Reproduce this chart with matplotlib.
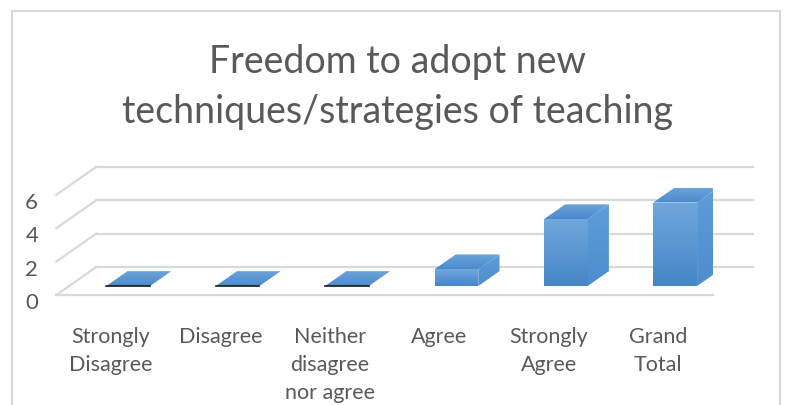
import numpy as np
import matplotlib
matplotlib.use("Agg")
import matplotlib.pyplot as plt
from matplotlib.patches import Polygon, Rectangle
from matplotlib.colors import LinearSegmentedColormap
from matplotlib.transforms import ScaledTranslation

# data
categories = ["Strongly\nDisagree", "Disagree", "Neither\ndisagree\nnor agree",
              "Agree", "Strongly\nAgree", "Grand\nTotal"]
counts = [0, 0, 0, 1, 4, 5]
y_ticks = [0, 2, 4, 6]
title = "Freedom to adopt new\ntechniques/strategies of teaching"

# fake 3d look: depth offset in data units
DX = 0.366
DY = 1.68
D_FRONT = 0.32
D_BACK = 0.85
BAR_OFF = -0.16
BAR_W = 0.40

GRID = "#D9D9D9"
TEXT = "#595959"
FONT = ["Lato", "DejaVu Sans"]

plt.rcParams['font.family'] = FONT

W, H = 787, 405
fig = plt.figure(figsize=(W / 100, H / 100), dpi=100)
ax = fig.add_axes([56.3 / W, 110 / H, 656.4 / W, 133.6 / H])
ax.set_xlim(-0.5, 5.5)
ax.set_ylim(0, 8)
for s in ax.spines.values():
    s.set_visible(False)


def proj(x, v, d):
    return (x + d * DX, v + d * DY)


def grad_poly(pts, c_top, c_bot, z):
    poly = Polygon(pts, closed=True, facecolor='none', edgecolor='none', zorder=z)
    ax.add_patch(poly)
    xs = [p[0] for p in pts]
    ys = [p[1] for p in pts]
    cmap = LinearSegmentedColormap.from_list('g', [c_bot, c_top])
    im = ax.imshow(np.linspace(0, 1, 64).reshape(-1, 1), cmap=cmap,
                   extent=[min(xs), max(xs), min(ys), max(ys)],
                   origin='lower', aspect='auto', zorder=z, interpolation='bilinear')
    im.set_clip_path(poly)


# back wall gridlines + left wall diagonals
x_lo, x_hi = ax.get_xlim()
for v in y_ticks:
    p0 = proj(x_lo, v, 1)
    p1 = proj(x_hi, v, 1)
    ax.plot([p0[0], p1[0]], [p0[1], p1[1]], color=GRID, lw=1.6, zorder=1, clip_on=False)
    q0 = proj(x_lo, v, 0)
    ax.plot([q0[0], p0[0]], [q0[1], p0[1]], color=GRID, lw=1.6, zorder=1, clip_on=False)
# floor front edge
f0 = proj(x_lo, 0, 0)
f1 = proj(x_hi, 0, 0)
ax.plot([f0[0], f1[0]], [f0[1], f1[1]], color=GRID, lw=1.6, zorder=1, clip_on=False)

# bars
for i, h in enumerate(counts):
    x0 = i + BAR_OFF
    x1 = x0 + BAR_W
    top = [proj(x0, h, D_FRONT), proj(x1, h, D_FRONT), proj(x1, h, D_BACK), proj(x0, h, D_BACK)]
    if h > 0:
        front = [proj(x0, 0, D_FRONT), proj(x1, 0, D_FRONT), proj(x1, h, D_FRONT), proj(x0, h, D_FRONT)]
        side = [proj(x1, 0, D_FRONT), proj(x1, 0, D_BACK), proj(x1, h, D_BACK), proj(x1, h, D_FRONT)]
        grad_poly(side, "#5E9DD9", "#4D8DCE", 3)
        grad_poly(front, "#70A7DC", "#4586C6", 4)
        grad_poly(top, "#6BA3DA", "#4A8ACB", 4)
    else:
        grad_poly(top, "#6BA3DA", "#4A8ACB", 4)
        a, b = proj(x0, 0, D_FRONT), proj(x1, 0, D_FRONT)
        ax.plot([a[0], b[0]], [a[1], b[1]], color="#1a1a1a", lw=1.2, zorder=5)

ax.set_xlim(x_lo, x_hi)
ax.set_ylim(0, 8)

ax.set_yticks(y_ticks)
ax.set_yticklabels([str(v) for v in y_ticks], color=TEXT, fontsize=16)
ax.set_xticks(range(len(categories)))
ax.set_xticklabels(categories, color=TEXT, fontsize=15.5, linespacing=1.5, va='top')
ax.tick_params(axis='both', length=0)
ax.tick_params(axis='y', pad=13)
ax.tick_params(axis='x', pad=23)
shift = ScaledTranslation(0, -0.06, fig.dpi_scale_trans)
for lbl in ax.get_yticklabels():
    lbl.set_transform(lbl.get_transform() + shift)

fig.text(398 / W, 1 - 87 / H, title, ha='center', va='center', color=TEXT,
         fontsize=27, linespacing=1.45, multialignment='center')

fig.patches.append(Rectangle((12 / W, -0.05), 768 / W, 1.05 - 11 / H,
                             transform=fig.transFigure, fill=False,
                             edgecolor=GRID, lw=1.5))

fig.savefig("out.png", dpi=100)
